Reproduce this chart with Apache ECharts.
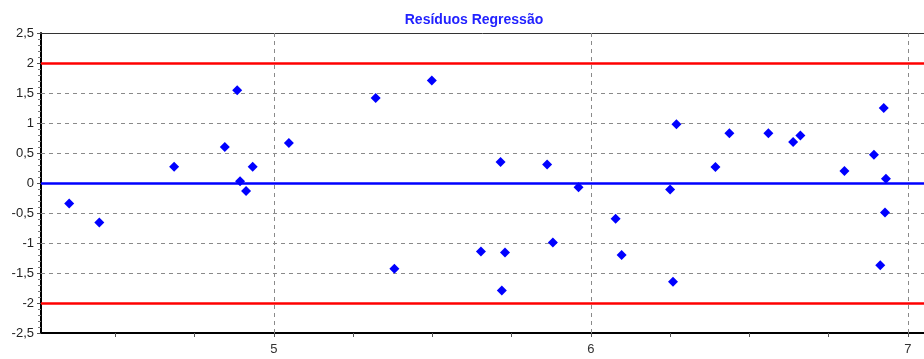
<!DOCTYPE html>
<html>
<head>
<meta charset="utf-8">
<script src="https://cdn.jsdelivr.net/npm/echarts@6/dist/echarts.min.js"></script>
<style>html,body{margin:0;padding:0;background:#fff}#c{width:924px;height:359px}</style>
</head>
<body>
<div id="c"></div>
<script>
var titleText = 'Resíduos Regressão';
var xValues = [4.354, 4.449, 4.685, 4.845, 4.884, 4.893, 4.912, 4.933, 5.047, 5.321, 5.380, 5.498,
  5.653, 5.715, 5.719, 5.729, 5.862, 5.880, 5.961, 6.078, 6.097, 6.250, 6.259, 6.270, 6.393,
  6.437, 6.560, 6.638, 6.661, 6.800, 6.893, 6.913, 6.924, 6.928, 6.931];
var residuals = [-0.34, -0.66, 0.27, 0.60, 1.545, 0.03, -0.135, 0.27, 0.667, 1.417, -1.43, 1.71,
  -1.14, 0.35, -1.79, -1.16, 0.31, -0.99, -0.07, -0.595, -1.2, -0.11, -1.645, 0.978, 0.267,
  0.83, 0.83, 0.683, 0.79, 0.2, 0.47, -1.37, 1.25, -0.49, 0.072];
var xLabelValues = [5, 6, 7];
var xTickValues = [4.5, 4.75, 5, 5.25, 5.5, 5.75, 6, 6.25, 6.5, 6.75, 7];
var gridYValues = [1.5, 1, 0.5, -0.5, -1, -1.5];
var limitValues = [2, -2];
var zeroValue = 0;

var points = xValues.map(function (x, i) { return [x, residuals[i]]; });

var chart = echarts.init(document.getElementById('c'), null, {renderer: 'canvas'});
var font = 'Liberation Sans, Arial, sans-serif';
chart.setOption({
  animation: false,
  title: {
    text: titleText, left: 469, top: 8, textAlign: 'center',
    textStyle: {color: '#2222ff', fontSize: 14, fontWeight: 'bold', fontFamily: font}
  },
  grid: {left: 41, right: 0, top: 33, bottom: 26},
  xAxis: [{
    type: 'value', min: 4.265, max: 7.051,
    axisLine: {show: true, onZero: false, lineStyle: {color: '#000', width: 2}},
    axisTick: {show: true, customValues: xTickValues, length: 4, lineStyle: {color: '#555'}},
    axisLabel: {customValues: xLabelValues, color: '#333', fontSize: 13, fontFamily: font, margin: 10,
      formatter: function (v) { return String(v); }},
    splitLine: {show: false}
  }, {
    type: 'value', position: 'top', min: 4.265, max: 7.051,
    axisLine: {show: true, onZero: false, lineStyle: {color: '#333', width: 1}},
    axisTick: {show: false}, axisLabel: {show: false}, splitLine: {show: false}
  }],
  yAxis: {
    type: 'value', min: -2.5, max: 2.5, interval: 0.5,
    axisLine: {show: true, onZero: false, lineStyle: {color: '#000', width: 2}},
    axisTick: {show: true, length: 4, lineStyle: {color: '#555'}},
    minorTick: {show: true, splitNumber: 5, length: 3, lineStyle: {color: '#777'}},
    axisLabel: {color: '#222', fontSize: 13, fontFamily: font, margin: 7,
      formatter: function (v) { return String(v).replace('.', ','); }},
    splitLine: {show: false}
  },
  series: [{
    type: 'scatter', data: points, symbol: 'diamond', symbolSize: 10,
    itemStyle: {color: '#0000ff', opacity: 1}, z: 5,
    markLine: {
      silent: true, symbol: ['none', 'none'], label: {show: false}, animation: false,
      data: [].concat(
        xLabelValues.map(function (v) { return {xAxis: v, lineStyle: {color: '#8a8a8a', type: [4, 4], width: 1}}; }),
        gridYValues.map(function (v) { return {yAxis: v, lineStyle: {color: '#8a8a8a', type: [4, 4], width: 1}}; }),
        limitValues.map(function (v) { return {yAxis: v, lineStyle: {color: '#ff0000', type: 'solid', width: 2.5}}; }),
        [{yAxis: zeroValue, lineStyle: {color: '#0000ff', type: 'solid', width: 2.5}}]
      )
    }
  }]
});
</script>
</body>
</html>
